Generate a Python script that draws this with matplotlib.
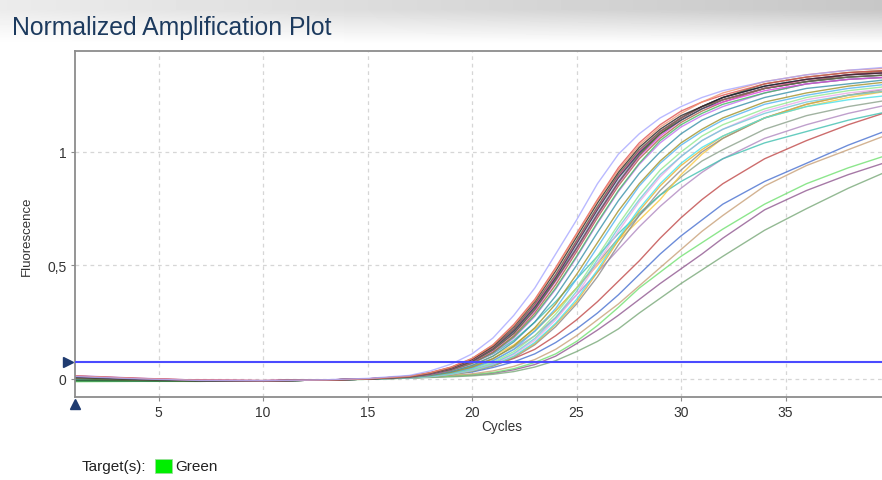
import numpy as np
import matplotlib
matplotlib.use("Agg")
import matplotlib.pyplot as plt
from matplotlib.patches import Rectangle
import matplotlib.transforms as mtransforms

plt.rcParams['font.family'] = ['Liberation Sans', 'DejaVu Sans']

# cycles at which each normalized trace was sampled
cycles = [1, 4, 7, 10, 13, 15, 17, 18, 19, 20, 21, 22, 23, 24, 25, 26, 27, 28, 29, 30, 31, 32, 34, 36, 38, 40]

# early wells (main cluster)
lavender  = [0.010, 0.0, -0.007, -0.008, -0.004, 0.002, 0.015, 0.035, 0.065, 0.11, 0.18, 0.28, 0.40, 0.55, 0.70, 0.86, 0.99, 1.08, 1.15, 1.20, 1.24, 1.27, 1.31, 1.34, 1.36, 1.375]
red       = [0.012, 0.002, -0.006, -0.008, -0.005, 0.0, 0.012, 0.028, 0.052, 0.09, 0.15, 0.24, 0.35, 0.49, 0.64, 0.79, 0.93, 1.04, 1.12, 1.18, 1.22, 1.25, 1.30, 1.33, 1.35, 1.36]
black     = [0.008, -0.002, -0.008, -0.009, -0.005, 0.0, 0.011, 0.026, 0.05, 0.087, 0.145, 0.23, 0.34, 0.475, 0.625, 0.775, 0.91, 1.02, 1.10, 1.16, 1.20, 1.24, 1.29, 1.32, 1.34, 1.35]
olive     = [0.005, -0.004, -0.009, -0.009, -0.005, -0.001, 0.010, 0.025, 0.048, 0.085, 0.14, 0.22, 0.33, 0.46, 0.61, 0.76, 0.90, 1.01, 1.09, 1.15, 1.20, 1.23, 1.28, 1.31, 1.33, 1.34]
violet    = [0.014, 0.003, -0.006, -0.008, -0.005, 0.0, 0.009, 0.022, 0.043, 0.077, 0.13, 0.205, 0.31, 0.44, 0.58, 0.73, 0.87, 0.99, 1.08, 1.14, 1.19, 1.23, 1.28, 1.31, 1.33, 1.34]
navy      = [0.006, -0.003, -0.008, -0.009, -0.005, -0.001, 0.010, 0.024, 0.046, 0.082, 0.137, 0.215, 0.32, 0.45, 0.60, 0.75, 0.89, 1.00, 1.09, 1.15, 1.20, 1.24, 1.29, 1.32, 1.34, 1.35]
darkolive = [0.0, -0.006, -0.009, -0.009, -0.005, -0.001, 0.009, 0.022, 0.042, 0.075, 0.127, 0.20, 0.305, 0.435, 0.575, 0.725, 0.865, 0.985, 1.08, 1.15, 1.20, 1.24, 1.30, 1.33, 1.35, 1.36]
green     = [-0.010, -0.010, -0.011, -0.009, -0.005, -0.001, 0.008, 0.02, 0.038, 0.068, 0.115, 0.185, 0.28, 0.40, 0.54, 0.69, 0.83, 0.95, 1.05, 1.12, 1.17, 1.21, 1.26, 1.30, 1.32, 1.33]
orchid    = [0.006, -0.003, -0.008, -0.009, -0.005, -0.001, 0.008, 0.019, 0.037, 0.066, 0.112, 0.18, 0.275, 0.395, 0.535, 0.685, 0.825, 0.945, 1.04, 1.11, 1.16, 1.20, 1.26, 1.30, 1.32, 1.33]
magenta   = [0.010, 0.0, -0.007, -0.008, -0.005, 0.0, 0.009, 0.021, 0.041, 0.074, 0.125, 0.20, 0.30, 0.43, 0.57, 0.72, 0.86, 0.98, 1.07, 1.14, 1.19, 1.22, 1.27, 1.30, 1.32, 1.33]
darkgreen = [-0.008, -0.009, -0.010, -0.009, -0.005, -0.001, 0.009, 0.023, 0.044, 0.079, 0.133, 0.21, 0.315, 0.445, 0.595, 0.745, 0.885, 0.995, 1.08, 1.14, 1.19, 1.23, 1.28, 1.31, 1.33, 1.34]
brown     = [0.012, 0.001, -0.007, -0.008, -0.005, 0.0, 0.008, 0.02, 0.039, 0.07, 0.118, 0.19, 0.29, 0.415, 0.56, 0.71, 0.85, 0.97, 1.06, 1.13, 1.18, 1.22, 1.28, 1.31, 1.34, 1.36]
hotpink   = [0.010, 0.0, -0.007, -0.008, -0.005, 0.0, 0.010, 0.024, 0.047, 0.083, 0.138, 0.22, 0.325, 0.455, 0.605, 0.755, 0.895, 1.005, 1.09, 1.15, 1.20, 1.23, 1.28, 1.32, 1.34, 1.35]
salmon    = [0.013, 0.002, -0.006, -0.008, -0.005, 0.0, 0.011, 0.027, 0.051, 0.089, 0.148, 0.235, 0.345, 0.485, 0.635, 0.785, 0.92, 1.03, 1.11, 1.17, 1.22, 1.26, 1.31, 1.34, 1.36, 1.37]
steel     = [-0.005, -0.008, -0.010, -0.009, -0.005, -0.001, 0.007, 0.017, 0.033, 0.059, 0.10, 0.163, 0.25, 0.365, 0.50, 0.645, 0.785, 0.905, 1.00, 1.08, 1.14, 1.18, 1.24, 1.28, 1.30, 1.32]
khaki     = [0.004, -0.004, -0.009, -0.009, -0.005, -0.001, 0.006, 0.015, 0.029, 0.052, 0.088, 0.145, 0.225, 0.33, 0.46, 0.60, 0.74, 0.86, 0.96, 1.04, 1.10, 1.15, 1.22, 1.26, 1.29, 1.31]
skyblue   = [-0.006, -0.008, -0.010, -0.009, -0.005, -0.001, 0.005, 0.013, 0.026, 0.047, 0.08, 0.13, 0.21, 0.31, 0.44, 0.58, 0.72, 0.85, 0.95, 1.03, 1.09, 1.14, 1.21, 1.25, 1.28, 1.30]
mint      = [-0.012, -0.011, -0.011, -0.009, -0.005, -0.001, 0.005, 0.012, 0.024, 0.043, 0.073, 0.12, 0.19, 0.285, 0.40, 0.54, 0.68, 0.81, 0.92, 1.00, 1.07, 1.12, 1.19, 1.24, 1.27, 1.29]
aqua      = [-0.004, -0.007, -0.010, -0.009, -0.005, -0.001, 0.005, 0.011, 0.022, 0.04, 0.068, 0.112, 0.178, 0.27, 0.385, 0.525, 0.665, 0.79, 0.90, 0.98, 1.05, 1.10, 1.17, 1.22, 1.25, 1.27]
pink      = [0.008, -0.002, -0.008, -0.009, -0.005, -0.001, 0.004, 0.01, 0.021, 0.038, 0.065, 0.107, 0.17, 0.26, 0.37, 0.51, 0.65, 0.78, 0.89, 0.98, 1.05, 1.10, 1.18, 1.23, 1.26, 1.28]
cyan      = [-0.004, -0.007, -0.010, -0.009, -0.005, -0.001, 0.004, 0.01, 0.02, 0.036, 0.061, 0.10, 0.16, 0.245, 0.35, 0.48, 0.62, 0.75, 0.86, 0.95, 1.02, 1.07, 1.15, 1.20, 1.23, 1.25]
gold      = [0.003, -0.005, -0.009, -0.009, -0.005, -0.001, 0.004, 0.01, 0.019, 0.035, 0.06, 0.098, 0.155, 0.24, 0.34, 0.47, 0.61, 0.74, 0.85, 0.94, 1.01, 1.07, 1.15, 1.21, 1.25, 1.27]
gray      = [0.002, -0.005, -0.009, -0.009, -0.005, -0.001, 0.004, 0.009, 0.018, 0.033, 0.056, 0.093, 0.15, 0.23, 0.33, 0.45, 0.59, 0.72, 0.83, 0.92, 1.00, 1.06, 1.15, 1.21, 1.25, 1.28]

# middle wells
teal      = [-0.006, -0.008, -0.010, -0.009, -0.005, -0.001, 0.012, 0.022, 0.04, 0.07, 0.11, 0.17, 0.25, 0.34, 0.44, 0.54, 0.64, 0.73, 0.81, 0.87, 0.92, 0.97, 1.04, 1.09, 1.14, 1.18]
lilac     = [0.006, -0.003, -0.008, -0.009, -0.005, -0.001, 0.008, 0.018, 0.03, 0.05, 0.08, 0.13, 0.19, 0.27, 0.37, 0.47, 0.57, 0.67, 0.76, 0.84, 0.91, 0.97, 1.06, 1.12, 1.17, 1.21]
yellow    = [0.002, -0.005, -0.009, -0.009, -0.005, -0.001, 0.01, 0.02, 0.035, 0.06, 0.10, 0.15, 0.22, 0.30, 0.40, 0.50, 0.61, 0.70, 0.79, 0.90, 0.99, 1.06, 1.15, 1.20, 1.24, 1.27]
sage      = [-0.004, -0.007, -0.010, -0.009, -0.005, -0.001, 0.008, 0.018, 0.033, 0.056, 0.09, 0.14, 0.21, 0.30, 0.40, 0.51, 0.62, 0.72, 0.81, 0.89, 0.96, 1.01, 1.10, 1.16, 1.20, 1.23]

# late wells
red2      = [0.008, -0.002, -0.008, -0.009, -0.005, -0.001, 0.010, 0.018, 0.028, 0.04, 0.06, 0.09, 0.13, 0.19, 0.26, 0.34, 0.43, 0.52, 0.62, 0.71, 0.79, 0.86, 0.97, 1.05, 1.12, 1.18]
blue      = [0.004, -0.004, -0.009, -0.009, -0.005, -0.001, 0.008, 0.014, 0.022, 0.03, 0.05, 0.075, 0.11, 0.16, 0.22, 0.29, 0.37, 0.46, 0.55, 0.63, 0.70, 0.77, 0.87, 0.95, 1.03, 1.10]
tan       = [0.0, -0.006, -0.009, -0.009, -0.005, -0.001, 0.006, 0.011, 0.016, 0.022, 0.035, 0.055, 0.085, 0.13, 0.19, 0.26, 0.33, 0.41, 0.49, 0.57, 0.65, 0.72, 0.85, 0.94, 1.01, 1.08]
lime      = [-0.012, -0.011, -0.011, -0.009, -0.005, -0.002, 0.004, 0.008, 0.012, 0.018, 0.028, 0.045, 0.072, 0.11, 0.165, 0.235, 0.315, 0.40, 0.47, 0.54, 0.60, 0.66, 0.77, 0.86, 0.93, 0.99]
plum      = [0.010, 0.0, -0.007, -0.008, -0.005, -0.001, 0.004, 0.008, 0.012, 0.017, 0.025, 0.04, 0.063, 0.10, 0.155, 0.215, 0.28, 0.35, 0.42, 0.485, 0.55, 0.62, 0.745, 0.83, 0.90, 0.96]
moss      = [-0.010, -0.010, -0.010, -0.009, -0.005, -0.002, 0.003, 0.006, 0.009, 0.013, 0.02, 0.032, 0.052, 0.08, 0.12, 0.165, 0.22, 0.29, 0.355, 0.42, 0.48, 0.54, 0.655, 0.75, 0.84, 0.92]

traces = [
    (moss, '#78a878'), (plum, '#905890'), (lime, '#70e070'), (tan, '#c8a078'),
    (blue, '#4870d0'), (red2, '#c04848'),
    (sage, '#8aa08a'), (lilac, '#b088c0'), (teal, '#40c0b0'), (yellow, '#f8c840'),
    (gray, '#8a8a8a'), (gold, '#e8b030'), (cyan, '#48e0e8'), (pink, '#e8a8e8'),
    (aqua, '#70c8d8'), (mint, '#90e890'), (skyblue, '#50b4f0'), (khaki, '#a09028'),
    (steel, '#3890a8'), (orchid, '#c070f0'), (green, '#40b860'), (brown, '#a86040'),
    (magenta, '#e040e0'), (violet, '#9a5ee8'), (darkgreen, '#2e5e2e'),
    (darkolive, '#5a6a30'), (navy, '#303070'), (hotpink, '#ff5aa0'), (olive, '#6b6b4a'),
    (black, '#202020'), (red, '#e05050'), (salmon, '#f09070'), (lavender, '#a8a8ff'),
]

threshold = 0.075

fig = plt.figure(figsize=(8.82, 4.81), dpi=100)

# header band with soft grey shading
band = fig.add_axes([0, 1 - 46 / 481, 1, 46 / 481], zorder=-5)
yy, xx = np.mgrid[0:46, 0:882]
shade = 1 - 0.22 * (0.35 + 0.65 * xx / 881) * np.clip((44 - yy) / 34, 0, 1)
band.imshow(shade, cmap='gray', vmin=0, vmax=1, aspect='auto')
band.axis('off')
fig.text(12 / 882, 1 - 28 / 481, 'Normalized Amplification Plot', fontsize=17.8,
         color='#1c3a5e', va='center', ha='left')

ax = fig.add_axes([75 / 882, 83 / 481, 815 / 882, 346 / 481])
for y, c in traces:
    ax.plot(cycles, y, color=c, lw=1.0, alpha=0.8, solid_capstyle='round')

ax.axhline(threshold, color='#4b4bff', lw=1.5, zorder=5)

ax.set_xlim(1, 40)
ax.set_ylim(-0.08, 1.445)
ax.set_xticks([5, 10, 15, 20, 25, 30, 35])
ax.set_yticks([0, 0.5, 1])
ax.set_yticklabels(['0', '0,5', '1'])
ax.grid(True, color='#d6d6d6', linestyle=(0, (3, 3)), linewidth=0.9)
ax.set_axisbelow(True)
for s in ax.spines.values():
    s.set_color('#8c8c8c')
    s.set_linewidth(1.3)
ax.tick_params(direction='out', length=3, width=0.8, color='#8c8c8c',
               labelsize=10, labelcolor='#333333', pad=3)
ax.set_xlabel('Cycles', fontsize=9.8, color='#333333')
ax.set_ylabel('Fluorescence', fontsize=9.5, color='#333333')
ax.xaxis.set_label_coords((502 - 75) / 815, -(427 - 398) / 346)
ax.yaxis.set_label_coords(-(75 - 27) / 815, (398 - 236) / 346)
ax.xaxis.label.set_va('center')
ax.yaxis.label.set_va('center')

# threshold and start handles
trans = mtransforms.blended_transform_factory(ax.transAxes, ax.transData)
ax.plot([-0.009], [threshold], marker='>', color='#1f3b70', ms=6.5,
        transform=trans, clip_on=False)
ax.plot([0], [-0.02], marker='^', color='#1f3b70', ms=7,
        transform=ax.transAxes, clip_on=False)

# target legend
fig.text(82 / 882, 1 - 467 / 481, 'Target(s):', fontsize=11, color='#222222',
         va='center', ha='left')
fig.patches.append(Rectangle((155 / 882, 1 - 474 / 481), 17 / 882, 14 / 481,
                             transform=fig.transFigure, facecolor='#00ee00',
                             edgecolor='#9adf9a', lw=0.6))
fig.text(175 / 882, 1 - 467 / 481, 'Green', fontsize=11, color='#222222',
         va='center', ha='left')

fig.savefig('out.png', dpi=100)
